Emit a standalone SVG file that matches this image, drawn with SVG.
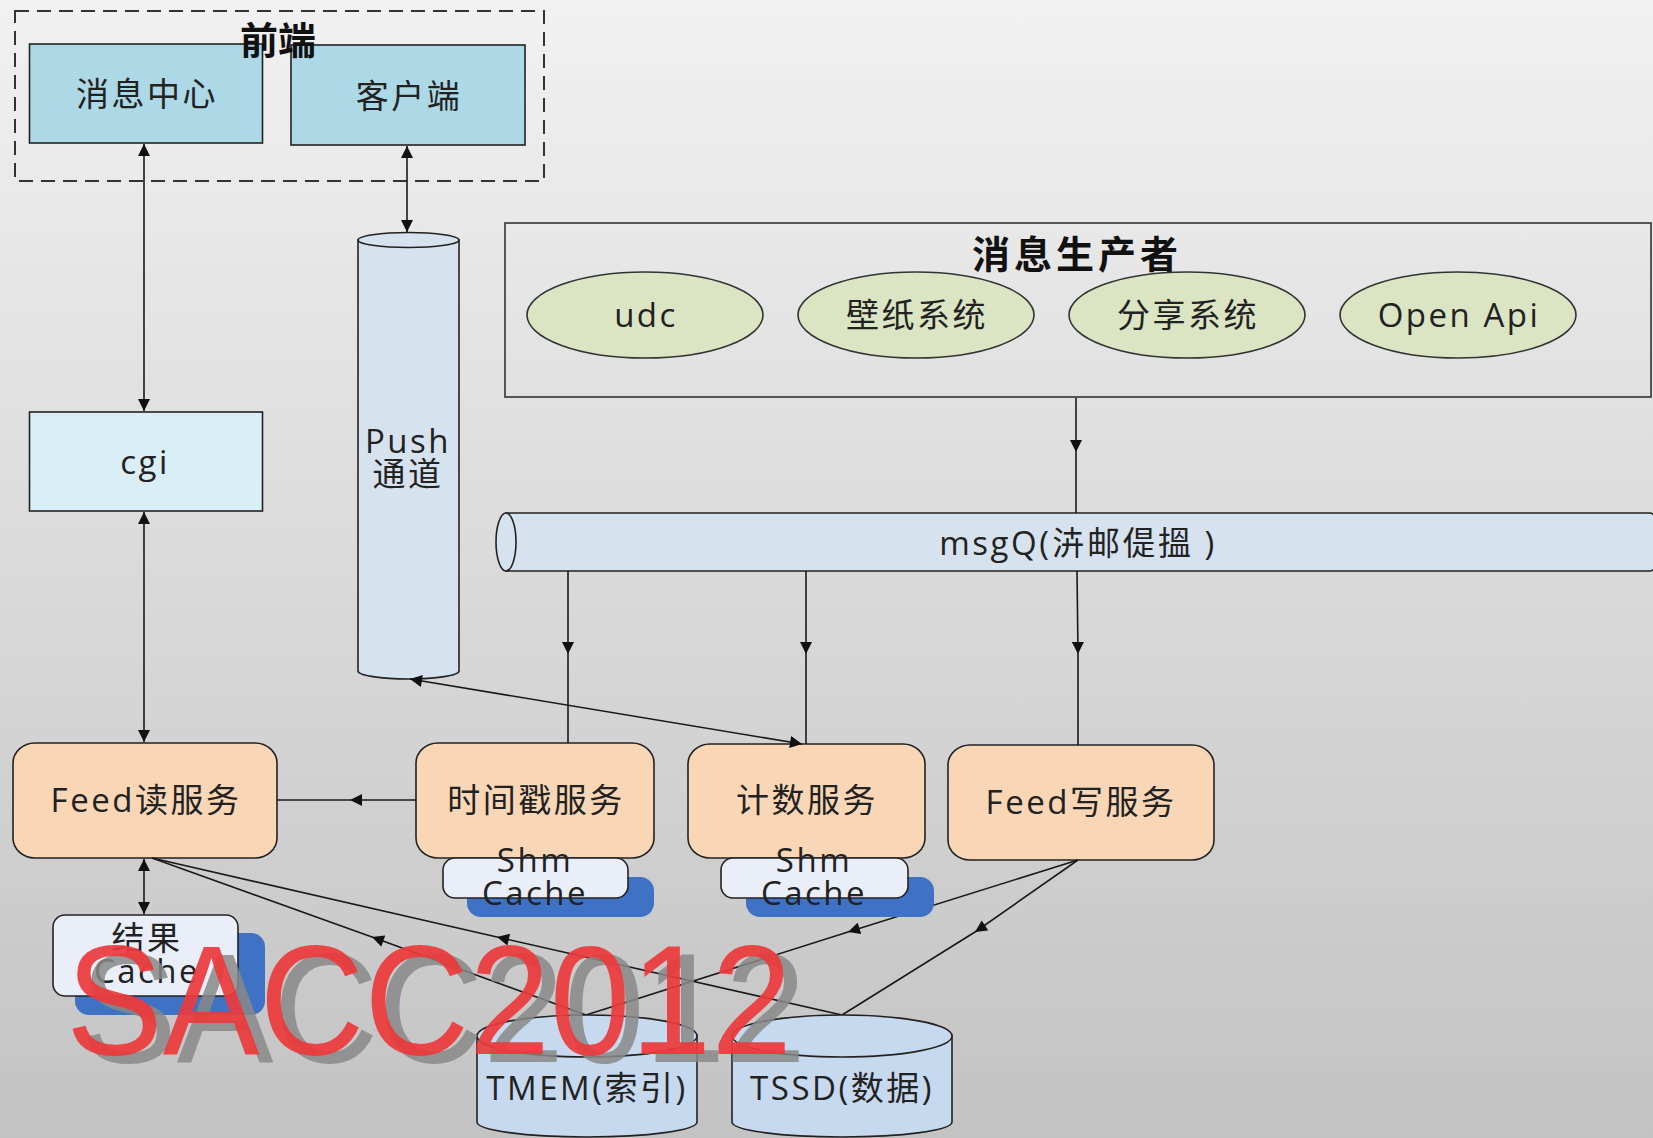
<svg xmlns="http://www.w3.org/2000/svg" width="1653" height="1138" viewBox="0 0 1653 1138">
<defs>
<linearGradient id="bg" x1="0" y1="0" x2="0" y2="1">
<stop offset="0" stop-color="#f1f1f1"/>
<stop offset="1" stop-color="#c3c3c3"/>
</linearGradient>
<marker id="arr" viewBox="0 0 10 10" refX="10" refY="5" markerWidth="13" markerHeight="12" markerUnits="userSpaceOnUse" orient="auto-start-reverse">
<path d="M0,0 L10,5 L0,10 z" fill="#111"/>
</marker>
<style>
.t{font-family:"Open Sans","Noto Sans CJK SC",sans-serif;font-size:33px;fill:#222;text-anchor:middle;dominant-baseline:central;letter-spacing:2.5px}
.b{font-family:"Noto Sans CJK SC","Noto Sans",sans-serif;font-weight:bold;fill:#111;text-anchor:middle;dominant-baseline:central}
.fe{fill:#add8e6;stroke:#222;stroke-width:1.6}
.cg{fill:#d9eff5;stroke:#222;stroke-width:1.6}
.cy{fill:#d6e2ee;stroke:#222;stroke-width:1.6}
.db{fill:#c7d9ef;stroke:#222;stroke-width:1.6}
.el{fill:#dbe5c3;stroke:#333;stroke-width:1.6}
.sv{fill:#f9d6b6;stroke:#222;stroke-width:1.6}
.ca{fill:#e9eef8;stroke:#222;stroke-width:1.6}
.sh{fill:#3f72c4}
.ln{fill:none;stroke:#1a1a1a;stroke-width:1.6}
.wm{font-family:"Liberation Sans",Arial,sans-serif;font-size:155px}
</style>
</defs>
<rect x="0" y="0" width="1653" height="1138" fill="url(#bg)"/>

<g id="frontend-group">
<rect x="15" y="11" width="529" height="170" fill="none" stroke="#333" stroke-width="2" stroke-dasharray="14,8"/>
</g>
<g id="msg-center">
<rect class="fe" x="29.5" y="44" width="233" height="99"/>
<text class="t" x="147" y="93">消息中心</text>
</g>
<g id="client">
<rect class="fe" x="291" y="45" width="234" height="100"/>
<text class="t" x="409" y="95">客户端</text>
</g>
<text class="b" x="278" y="37" font-size="38">前端</text>

<g id="cgi">
<rect class="cg" x="29.5" y="412" width="233" height="99"/>
<text class="t" x="145" y="461">cgi</text>
</g>

<g id="push">
<path class="cy" d="M358,240 L358,671 A50.5,8 0 0 0 459,671 L459,240 Z"/>
<ellipse class="cy" cx="408.5" cy="240" rx="50.5" ry="7.5"/>
<text class="t" x="408" y="440">Push</text>
<text class="t" x="408" y="473">通道</text>
</g>

<g id="producers">
<rect x="505" y="223" width="1146" height="174" fill="none" stroke="#333" stroke-width="1.6"/>
<text class="b" x="1077" y="251" font-size="38" letter-spacing="4">消息生产者</text>
</g>
<g id="udc">
<ellipse class="el" cx="645" cy="315" rx="118" ry="43"/>
<text class="t" x="646" y="314">udc</text>
</g>
<g id="wallpaper">
<ellipse class="el" cx="916" cy="315" rx="118" ry="43"/>
<text class="t" x="917" y="314">壁纸系统</text>
</g>
<g id="share">
<ellipse class="el" cx="1187" cy="315" rx="118" ry="43"/>
<text class="t" x="1188" y="314">分享系统</text>
</g>
<g id="openapi">
<ellipse class="el" cx="1458" cy="315" rx="118" ry="43"/>
<text class="t" x="1459" y="314">Open Api</text>
</g>

<g id="msgq">
<path class="cy" d="M506,513 L1650,513 A10,29 0 0 1 1650,571 L506,571 Z"/>
<ellipse class="cy" cx="506" cy="542" rx="10" ry="29"/>
<text class="t" x="1078" y="542">msgQ(泋邮偍搵 )</text>
</g>

<g id="feed-read">
<rect class="sv" x="13" y="743" width="264" height="115" rx="22" ry="20"/>
<text class="t" x="146" y="799">Feed读服务</text>
</g>
<g id="timestamp">
<rect class="sv" x="416" y="743" width="238" height="115" rx="22" ry="20"/>
<text class="t" x="536" y="799">时间戳服务</text>
</g>
<g id="counter">
<rect class="sv" x="688" y="744" width="237" height="114" rx="22" ry="20"/>
<text class="t" x="807" y="799">计数服务</text>
</g>
<g id="feed-write">
<rect class="sv" x="948" y="745" width="266" height="115" rx="22" ry="20"/>
<text class="t" x="1081" y="801">Feed写服务</text>
</g>

<g id="connectors">
<line class="ln" x1="144" y1="144" x2="144" y2="411" marker-start="url(#arr)" marker-end="url(#arr)"/>
<line class="ln" x1="144" y1="512" x2="144" y2="742" marker-start="url(#arr)" marker-end="url(#arr)"/>
<line class="ln" x1="407" y1="146" x2="407" y2="232" marker-start="url(#arr)" marker-end="url(#arr)"/>
<path class="ln" d="M1076,398 L1076,452 L1076,513" marker-mid="url(#arr)"/>
<path class="ln" d="M568,571 L568,654 L568,743" marker-mid="url(#arr)"/>
<path class="ln" d="M806,571 L806,654 L806,744" marker-mid="url(#arr)"/>
<path class="ln" d="M1077,571 L1078,654 L1078,745" marker-mid="url(#arr)"/>
<line class="ln" x1="410" y1="679" x2="802" y2="744" marker-start="url(#arr)" marker-end="url(#arr)"/>
<path class="ln" d="M416,800 L350,800 L277,800" marker-mid="url(#arr)"/>
<line class="ln" x1="144" y1="859" x2="144" y2="914" marker-start="url(#arr)" marker-end="url(#arr)"/>
<path class="ln" d="M586,1015 L372,937 L152,858" marker-mid="url(#arr)"/>
<path class="ln" d="M842,1015 L497,937 L152,858" marker-mid="url(#arr)"/>
<path class="ln" d="M1078,860 L848,932 L586,1015" marker-mid="url(#arr)"/>
<path class="ln" d="M1078,860 L975,932 L842,1015" marker-mid="url(#arr)"/>
</g>

<g id="shm-cache-1">
<rect class="sh" x="467" y="877" width="187" height="40" rx="14"/>
<rect class="ca" x="443" y="858" width="185" height="40" rx="12"/>
<text class="t" x="535" y="859">Shm</text>
<text class="t" x="535" y="892">Cache</text>
</g>
<g id="shm-cache-2">
<rect class="sh" x="746" y="877" width="188" height="40" rx="14"/>
<rect class="ca" x="721" y="858" width="187" height="40" rx="12"/>
<text class="t" x="814" y="859">Shm</text>
<text class="t" x="814" y="892">Cache</text>
</g>
<g id="result-cache">
<rect class="sh" x="75" y="933" width="190" height="82" rx="14"/>
<rect class="ca" x="53" y="915" width="185" height="81" rx="12"/>
<text class="t" x="147" y="937">结果</text>
<text class="t" x="147" y="970">Cache</text>
</g>

<g id="tmem">
<path class="db" d="M477,1036 L477,1122 A110,15 0 0 0 697,1122 L697,1036 Z"/>
<ellipse class="db" cx="587" cy="1036" rx="110" ry="21"/>
<text class="t" x="587" y="1087">TMEM(索引)</text>
</g>
<g id="tssd">
<path class="db" d="M732,1036 L732,1122 A110,15 0 0 0 952,1122 L952,1036 Z"/>
<ellipse class="db" cx="842" cy="1036" rx="110" ry="21"/>
<text class="t" x="842" y="1087">TSSD(数据)</text>
</g>

<g id="watermark">
<text class="wm" x="80" y="1062" fill="#888" fill-opacity="0.85" textLength="726" lengthAdjust="spacingAndGlyphs">SACC2012</text>
<text class="wm" x="66" y="1054" fill="#ec3a3c" fill-opacity="0.92" textLength="726" lengthAdjust="spacingAndGlyphs">SACC2012</text>
</g>
</svg>
